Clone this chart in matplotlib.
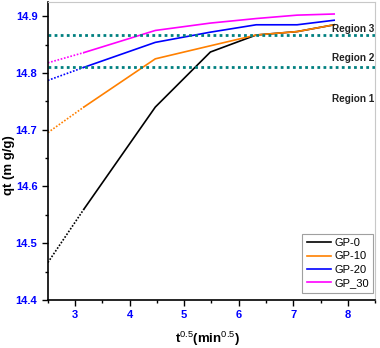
import numpy as np
import matplotlib
matplotlib.use("Agg")
import matplotlib.pyplot as plt
from matplotlib.ticker import MultipleLocator

plt.rcParams['font.family'] = ['Liberation Sans', 'DejaVu Sans']
plt.rcParams['mathtext.fontset'] = 'custom'
plt.rcParams['mathtext.bf'] = 'Liberation Sans:bold'
plt.rcParams['mathtext.rm'] = 'Liberation Sans'

# data: sqrt(t) and qt for each sample
x = [3.16, 4.47, 5.48, 6.32, 7.07, 7.75]
gp0 = [14.560, 14.740, 14.837, 14.867, 14.873, 14.885]
gp10 = [14.740, 14.825, 14.848, 14.867, 14.873, 14.885]
gp20 = [14.810, 14.854, 14.872, 14.885, 14.885, 14.893]
gp30 = [14.836, 14.875, 14.888, 14.896, 14.902, 14.904]

# dotted extrapolation back to the left edge
x0 = 2.5
start = {"GP-0": 14.466, "GP-10": 14.695, "GP-20": 14.787, "GP_30": 14.818}

series = {"GP-0": gp0, "GP-10": gp10, "GP-20": gp20, "GP_30": gp30}
colors = {"GP-0": "black", "GP-10": "#ff8000", "GP-20": "#0000ff", "GP_30": "#ff00ff"}

region_lines = [14.867, 14.811]
region_labels = ["Region 3", "Region 2", "Region 1"]
region_y = [14.878, 14.826, 14.755]

fig = plt.figure(figsize=(3.8, 3.48), dpi=100)
ax = fig.add_axes([0.126, 0.138, 0.861, 0.856])

for name, vals in series.items():
    ax.plot([x0, x[0]], [start[name], vals[0]], color=colors[name], lw=1.2, ls=(0, (1, 1)))
    ax.plot(x, vals, color=colors[name], lw=1.2, label=name)

for yv in region_lines:
    ax.axhline(yv, color="#008080", lw=2, ls=(0, (1, 1.2)))

for lab, yv in zip(region_labels, region_y):
    ax.text(8.48, yv, lab, ha="right", va="center", fontsize=7.2,
            fontweight="bold", color="#222222")

ax.set_xlim(2.5, 8.5)
ax.set_ylim(14.4, 14.925)
ax.xaxis.set_major_locator(MultipleLocator(1))
ax.xaxis.set_minor_locator(MultipleLocator(0.5))
ax.yaxis.set_major_locator(MultipleLocator(0.1))
ax.yaxis.set_minor_locator(MultipleLocator(0.05))
ax.set_xticks([3, 4, 5, 6, 7, 8])
ax.tick_params(which="major", length=4, width=1, labelsize=8, labelcolor="#0000ff")
ax.tick_params(which="minor", length=2.5, width=1)
for lbl in ax.get_xticklabels() + ax.get_yticklabels():
    lbl.set_fontweight("bold")

for s in ["left", "bottom"]:
    ax.spines[s].set_linewidth(1.2)
for s in ["top", "right"]:
    ax.spines[s].set_color("#c8c8c8")

# axis titles placed in figure pixels to match the reference
fig.text(9 / 380, 1 - 165 / 348, "qt (m g/g)", rotation=90, ha="center", va="center",
         fontsize=9.5, fontweight="bold")
fig.text(207 / 380, 1 - 339 / 348, r"t$^{\mathrm{0.5}}$(min$^{\mathrm{0.5}}$)",
         ha="center", va="center", fontsize=9.5, fontweight="bold")

leg = ax.legend(loc="lower right", fontsize=8, frameon=True, fancybox=False,
                edgecolor="#888888", handlelength=2.2, borderpad=0.4,
                labelspacing=0.3, handletextpad=0.3, borderaxespad=0,
                bbox_to_anchor=(0.995, 0.025))
leg.get_frame().set_linewidth(0.8)

fig.savefig("out.png", dpi=100)
